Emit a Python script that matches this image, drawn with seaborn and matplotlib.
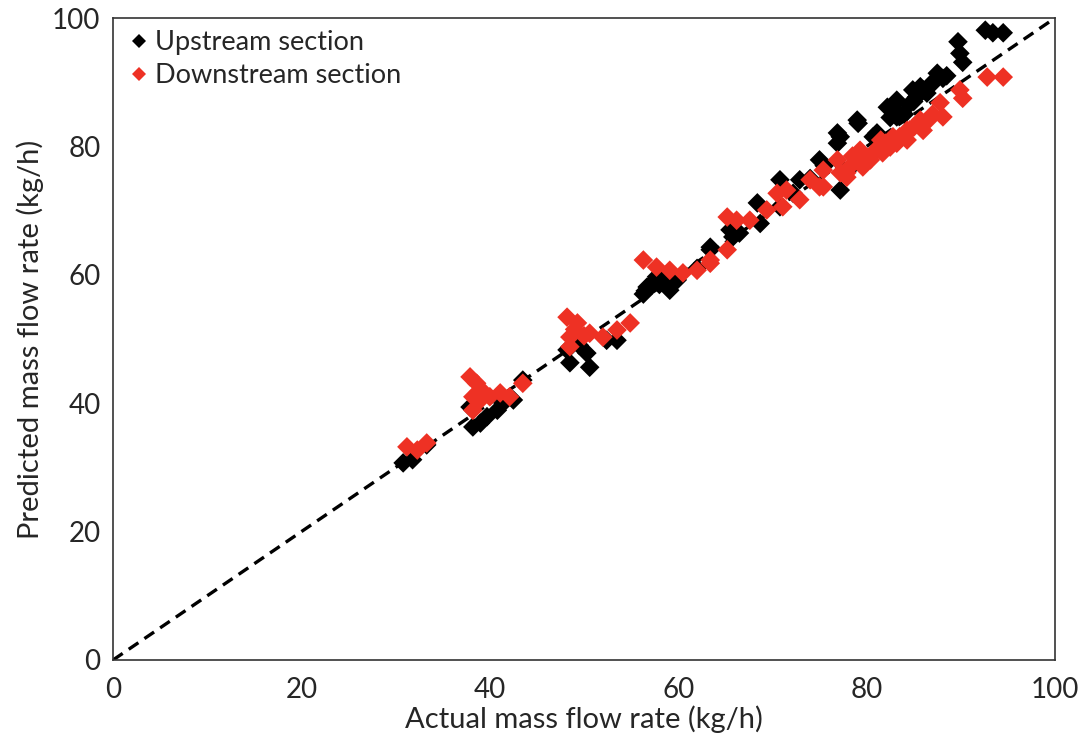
import numpy as np
import pandas as pd
import matplotlib
matplotlib.use("Agg")
import matplotlib.pyplot as plt
import seaborn as sns

# Upstream section (black)
up_actual = [30.8, 31.8, 33.3, 37.9, 38.2, 39.0, 39.7, 40.8, 41.4, 42.5, 43.5,
             48.2, 48.5, 49.5, 50.3, 50.6, 52.4, 53.5,
             56.7, 57.3, 57.7, 59.1, 59.9, 56.3, 56.5, 58.0, 58.5,
             62.0, 63.4, 63.4, 65.5, 65.8, 66.5, 68.4, 68.7, 70.8, 70.8, 72.2, 72.9,
             74.0, 75.0, 75.5, 76.9, 76.9, 77.2, 77.2, 78.5, 79.0, 79.1, 80.7, 81.1,
             82.2, 82.8, 83.2, 83.2, 84.0, 84.9, 85.3, 85.7, 86.4, 87.5, 88.1,
             84.5, 86.0, 86.8, 87.0, 85.0, 88.5, 82.5,
             89.7, 89.9, 90.2, 92.6, 93.4, 94.5]
up_pred = [30.7, 31.2, 33.5, 39.4, 36.3, 36.9, 37.9, 38.9, 40.0, 40.5, 43.6,
           48.3, 46.3, 49.0, 47.8, 45.6, 49.8, 49.8,
           58.1, 58.7, 59.7, 57.6, 59.2, 57.0, 57.5, 58.5, 59.5,
           61.0, 64.3, 63.9, 67.0, 65.9, 66.5, 71.2, 68.0, 70.6, 74.8, 72.7, 74.8,
           75.0, 77.9, 77.0, 82.1, 80.5, 73.2, 81.5, 77.0, 84.1, 83.6, 81.5, 82.1,
           86.1, 86.1, 84.6, 87.2, 85.0, 88.8, 87.7, 89.3, 88.3, 91.4, 90.6,
           86.5, 88.8, 89.5, 90.0, 87.0, 91.0, 84.5,
           96.3, 94.5, 93.1, 98.1, 97.7, 97.7]

# Downstream section (red)
down_actual = [31.2, 32.3, 33.3, 37.9, 38.6, 38.2, 39.0, 40.0, 41.1, 42.1, 43.5, 38.2, 38.8, 39.5,
               48.2, 49.3, 48.5, 50.6, 52.0, 53.5, 54.9, 48.5, 49.0, 50.0,
               56.3, 57.7, 59.1, 60.5, 62.0, 63.4, 63.4, 65.2,
               65.2, 66.2, 67.6, 69.4, 70.5, 71.5, 71.1, 72.9, 74.0, 75.0, 75.4, 77.9,
               76.9, 75.4, 77.9, 79.3, 80.4, 81.7, 83.2, 84.6,
               77.2, 78.2, 79.3, 79.6, 81.4, 82.5, 82.8, 84.3, 84.3, 85.7, 86.0,
               80.5, 81.0, 82.0, 83.5, 85.0, 86.5, 87.0, 81.5, 79.0, 78.5,
               87.8, 88.1, 89.9, 90.2, 92.8, 94.5]
down_pred = [33.2, 32.7, 33.8, 44.1, 43.1, 41.0, 40.5, 41.0, 41.6, 41.0, 43.1, 38.9, 41.8, 41.5,
             53.4, 52.5, 50.3, 50.9, 50.3, 51.4, 52.5, 48.8, 51.5, 50.5,
             62.3, 61.2, 60.7, 60.3, 60.7, 61.8, 62.3, 63.9,
             69.0, 68.5, 68.5, 70.1, 72.7, 73.2, 70.6, 71.7, 74.8, 73.7, 76.3, 75.2,
             77.9, 73.7, 75.9, 79.4, 77.9, 79.0, 80.5, 82.6,
             75.9, 76.8, 79.0, 76.8, 79.9, 79.9, 81.5, 82.5, 81.0, 84.1, 82.5,
             78.5, 79.5, 80.5, 81.5, 83.0, 84.0, 85.0, 81.0, 78.0, 78.5,
             86.8, 84.6, 88.8, 87.5, 90.8, 90.8]

series_names = ["Upstream section", "Downstream section"]
ticks = [0, 20, 40, 60, 80, 100]

df = pd.DataFrame({
    "actual": up_actual + down_actual,
    "pred": up_pred + down_pred,
    "series": [series_names[0]] * len(up_actual) + [series_names[1]] * len(down_actual),
})

sns.set_style("white")
plt.rcParams["font.family"] = ["Lato", "DejaVu Sans"]

fig = plt.figure(figsize=(10.9, 7.54), dpi=100)
ax = fig.add_axes([0.1037, 0.1247, 0.8642, 0.8514])

ax.plot([0, 100], [0, 100], color="black", linestyle=(0, (3.5, 2.2)), linewidth=2.4, zorder=1)

sns.scatterplot(data=df, x="actual", y="pred", hue="series",
                palette={series_names[0]: "#000000", series_names[1]: "#ee3124"},
                marker="D", s=100, linewidth=0, ax=ax, zorder=2)

ax.set_xlim(0, 100)
ax.set_ylim(0, 100)
ax.set_xticks(ticks)
ax.set_yticks(ticks)
ax.tick_params(axis="both", labelsize=20, length=0)
ax.tick_params(axis="y", pad=9)
ax.tick_params(axis="x", pad=12)
ax.set_xlabel("Actual mass flow rate (kg/h)", fontsize=21, labelpad=2)
ax.set_ylabel("Predicted mass flow rate (kg/h)", fontsize=21, labelpad=6)
for sp in ax.spines.values():
    sp.set_color("#333333")
    sp.set_linewidth(1.2)

leg = ax.legend(loc="upper left", frameon=False, fontsize=19.5, handletextpad=0.1,
                borderaxespad=0.05, labelspacing=0.3, handlelength=1.0,
                bbox_to_anchor=(0.0, 1.0), markerscale=0.75)

fig.savefig("out.png", dpi=100)
